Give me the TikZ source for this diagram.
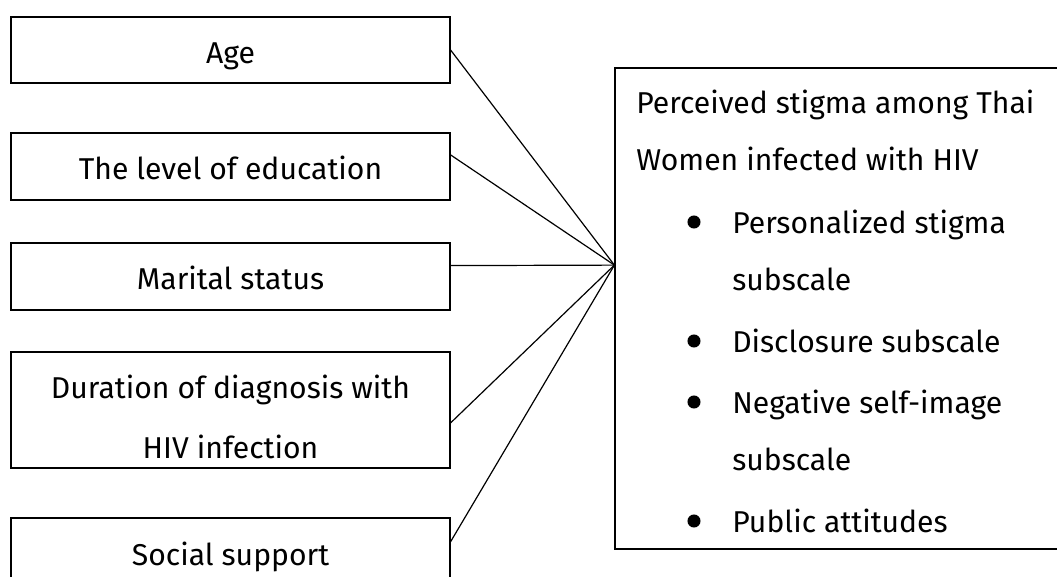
\documentclass[tikz,border=0pt]{standalone}
\usepackage{fontspec}
\setmainfont{Fira Sans}
\usetikzlibrary{calc}
\begin{document}
\begin{tikzpicture}[x=0.75pt,y=-0.75pt,
  txt/.style={font=\fontsize{22.6}{45}\selectfont, inner sep=0pt},
  fbox/.style={draw, line width=0.9pt, inner sep=0pt, minimum width=329.25pt, align=center,
    font=\fontsize{22.6}{45}\selectfont, text height=25pt, text depth=5pt},
  link/.style={line width=0.9pt},
  dot/.style={circle, fill=black, inner sep=0pt, minimum size=9.8pt}]
\useasboundingbox (0,0) rectangle (1057,576);
\clip (0,0) rectangle (1057,576);
\node[fbox, minimum height=49.5pt] (age) at (230.5,50) {Age};
\node[fbox, minimum height=50.25pt] (edu) at (230.5,166.5) {The level of education};
\node[fbox, minimum height=50.25pt] (mar) at (230.5,276.5) {Marital status};
\node[draw, line width=0.9pt, inner sep=0pt, minimum width=329.25pt, minimum height=87pt] (dur) at (230.5,410) {};
\node[txt, anchor=base] (dur1) at (230.5,398) {Duration of diagnosis with};
\node[txt, anchor=base] (dur2) at (230.5,458) {HIV infection};
\node[draw, line width=0.9pt, inner sep=0pt, minimum width=329.25pt, minimum height=75pt] (soc) at (230.5,568) {};
\node[txt, anchor=base] (soct) at (230.5,565) {Social support};
\node[draw, line width=0.9pt, inner sep=0pt, minimum width=363.75pt, minimum height=360.75pt] (res) at (857.5,308.5) {};
\coordinate (c) at ($(res.north west)!0.41!(res.south west)$);
\node[txt, anchor=base west] (h1) at (636,113) {Perceived stigma among Thai};
\node[txt, anchor=base west] (h2) at (636,170) {Women infected with HIV};
\node[dot] (b1) at (694,222) {};
\node[txt, anchor=base west] (t1) at (732,233) {Personalized stigma};
\node[txt, anchor=base west] (t1b) at (732,290) {subscale};
\node[dot] (b2) at (694,341) {};
\node[txt, anchor=base west] (t2) at (732,352) {Disclosure subscale};
\node[dot] (b3) at (694,402) {};
\node[txt, anchor=base west] (t3) at (732,413) {Negative self-image};
\node[txt, anchor=base west] (t3b) at (732,470) {subscale};
\node[dot] (b4) at (694,521) {};
\node[txt, anchor=base west] (t4) at (732,532) {Public attitudes};
\draw[link] (age.east) -- (c);
\draw[link] ($(edu.north east)!0.33!(edu.south east)$) -- (c);
\draw[link] ($(mar.north east)!0.34!(mar.south east)$) -- (c);
\draw[link] ($(dur.north east)!0.61!(dur.south east)$) -- (c);
\draw[link] ($(soc.north east)!0.24!(soc.south east)$) -- (c);
\end{tikzpicture}
\end{document}
